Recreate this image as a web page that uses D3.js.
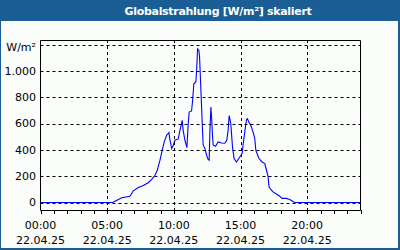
<!DOCTYPE html>
<html>
<head>
<meta charset="utf-8">
<script src="https://cdn.jsdelivr.net/npm/d3@7"></script>
<style>
  html, body { margin: 0; padding: 0; background: #fbfdfb; }
  svg { display: block; }
  text { font-family: Tahoma, "DejaVu Sans", Verdana, sans-serif; }
</style>
</head>
<body>
<div id="chart"></div>
<script>
// Globalstrahlung 22.04.25, hours since midnight and W/m²
const hours = [0, 5.42, 5.59, 6.09, 6.71, 6.96, 7.34, 7.71, 8.08, 8.34, 8.59, 8.76, 8.96, 9.13, 9.28,
  9.46, 9.63, 9.71, 9.84, 9.96, 10.08, 10.33, 10.46, 10.58, 10.63, 10.70, 10.83, 10.98, 11.08, 11.15,
  11.33, 11.41, 11.50, 11.65, 11.71, 11.78, 11.88, 11.93, 12.03, 12.13, 12.20, 12.33, 12.46, 12.57,
  12.65, 12.70, 12.78, 12.83, 12.90, 12.95, 13.13, 13.32, 13.58, 13.82, 13.97, 14.07, 14.15, 14.27,
  14.40, 14.52, 14.70, 14.82, 14.95, 15.12, 15.19, 15.32, 15.45, 15.52, 15.62, 15.77, 15.94, 16.07,
  16.15, 16.24, 16.39, 16.62, 16.82, 16.95, 17.07, 17.14, 17.27, 17.44, 17.69, 17.94, 18.11, 18.44,
  18.69, 18.94, 19.06, 24];
const values = [0, 0, 10, 36, 48, 89, 114, 129, 150, 175, 207, 245, 321, 397, 460,
  511, 531, 473, 410, 435, 473, 483, 548, 600, 624, 548, 473, 417, 600, 687,
  695, 776, 902, 915, 1003, 1167, 1155, 1104, 852, 600, 435, 410, 359, 327,
  321, 523, 725, 649, 511, 435, 427, 460, 452, 450, 473, 548, 660, 600,
  422, 334, 308, 327, 346, 372, 435, 536, 630, 637, 611, 586, 536, 486,
  397, 372, 334, 308, 296, 245, 195, 119, 99, 81, 64, 48, 31, 31,
  23, 8, 0, 0];
const yTicks = [0, 200, 400, 600, 800, 1000];
const yGridTicks = [0, 200, 400, 600, 800, 1000, 1200];
const xTicks = [0, 5, 10, 15, 20];
const xTickLabels = ['00:00', '05:00', '10:00', '15:00', '20:00'];
const dateLabel = '22.04.25';
const title = 'Globalstrahlung [W/m²] skaliert';
const unit = 'W/m²';

const W = 400, H = 250;
const blue = '#1b5e95';
const svg = d3.select('#chart').append('svg').attr('width', W).attr('height', H);

// window frame + title bar
svg.append('rect').attr('x', 0).attr('y', 0).attr('width', W).attr('height', H).attr('fill', blue);
svg.append('rect').attr('x', 1).attr('y', 21).attr('width', W - 3).attr('height', H - 23).attr('fill', '#fbfdfb');
svg.append('text').attr('x', 218).attr('y', 15).attr('text-anchor', 'middle')
  .attr('fill', '#fff').attr('font-weight', 'bold').attr('font-size', 11)
  .attr('letter-spacing', -0.3).text(title);

const x = d3.scaleLinear().domain([0, 24]).range([40.5, 360.5]);
const y = d3.scaleLinear().domain([0, 1200]).range([202.5, 44.5]);

const data = hours.map((h, i) => ({ h, v: values[i] }));
svg.append('path').datum(data)
  .attr('fill', 'none').attr('stroke', '#0000ff').attr('stroke-width', 1.1)
  .attr('d', d3.line().x((d) => x(d.h)).y((d) => y(d.v)));

// dashed grid drawn over the line
const grid = svg.append('g').attr('stroke', '#000').attr('stroke-dasharray', '3,3').attr('stroke-width', 1);
grid.selectAll('.hg').data(yGridTicks).join('line')
  .attr('x1', x(0)).attr('x2', x(24))
  .attr('y1', (d) => Math.round(y(d)) + 0.5).attr('y2', (d) => Math.round(y(d)) + 0.5);
grid.selectAll('.vg').data(xTicks.slice(1)).join('line')
  .attr('x1', (d) => Math.round(x(d)) + 0.5).attr('x2', (d) => Math.round(x(d)) + 0.5)
  .attr('y1', 40).attr('y2', 210);

// plot frame: left, top, right, bottom
const frame = svg.append('g').attr('stroke', '#000').attr('stroke-width', 1).attr('fill', 'none');
frame.append('path').attr('d', 'M40.5,210.5V40.5H360.5V210.5H40.5');

// hourly ticks below the axis
frame.selectAll('.tk').data(d3.range(0, 25)).join('line')
  .attr('x1', (d) => Math.round(x(d)) + 0.5).attr('x2', (d) => Math.round(x(d)) + 0.5)
  .attr('y1', 210).attr('y2', 214);

const fmtY = (d) => d3.format(',')(d).replace(/,/g, '.');
svg.selectAll('.yl').data(yTicks).join('text')
  .attr('x', 36).attr('y', (d) => y(d)).attr('dy', '0.35em').attr('text-anchor', 'end')
  .attr('font-size', 11).attr('fill', '#000').text(fmtY);
svg.append('text').attr('x', 36).attr('y', 47).attr('dy', '0.35em').attr('text-anchor', 'end')
  .attr('font-size', 11).attr('fill', '#000').text(unit);

const xl = svg.selectAll('.xl').data(xTicks).join('g')
  .attr('transform', (d) => `translate(${x(d)},0)`);
xl.append('text').attr('y', 229).attr('text-anchor', 'middle').attr('font-size', 11)
  .text((d, i) => xTickLabels[i]);
xl.append('text').attr('y', 244).attr('text-anchor', 'middle').attr('font-size', 11)
  .text(dateLabel);
</script>
</body>
</html>
